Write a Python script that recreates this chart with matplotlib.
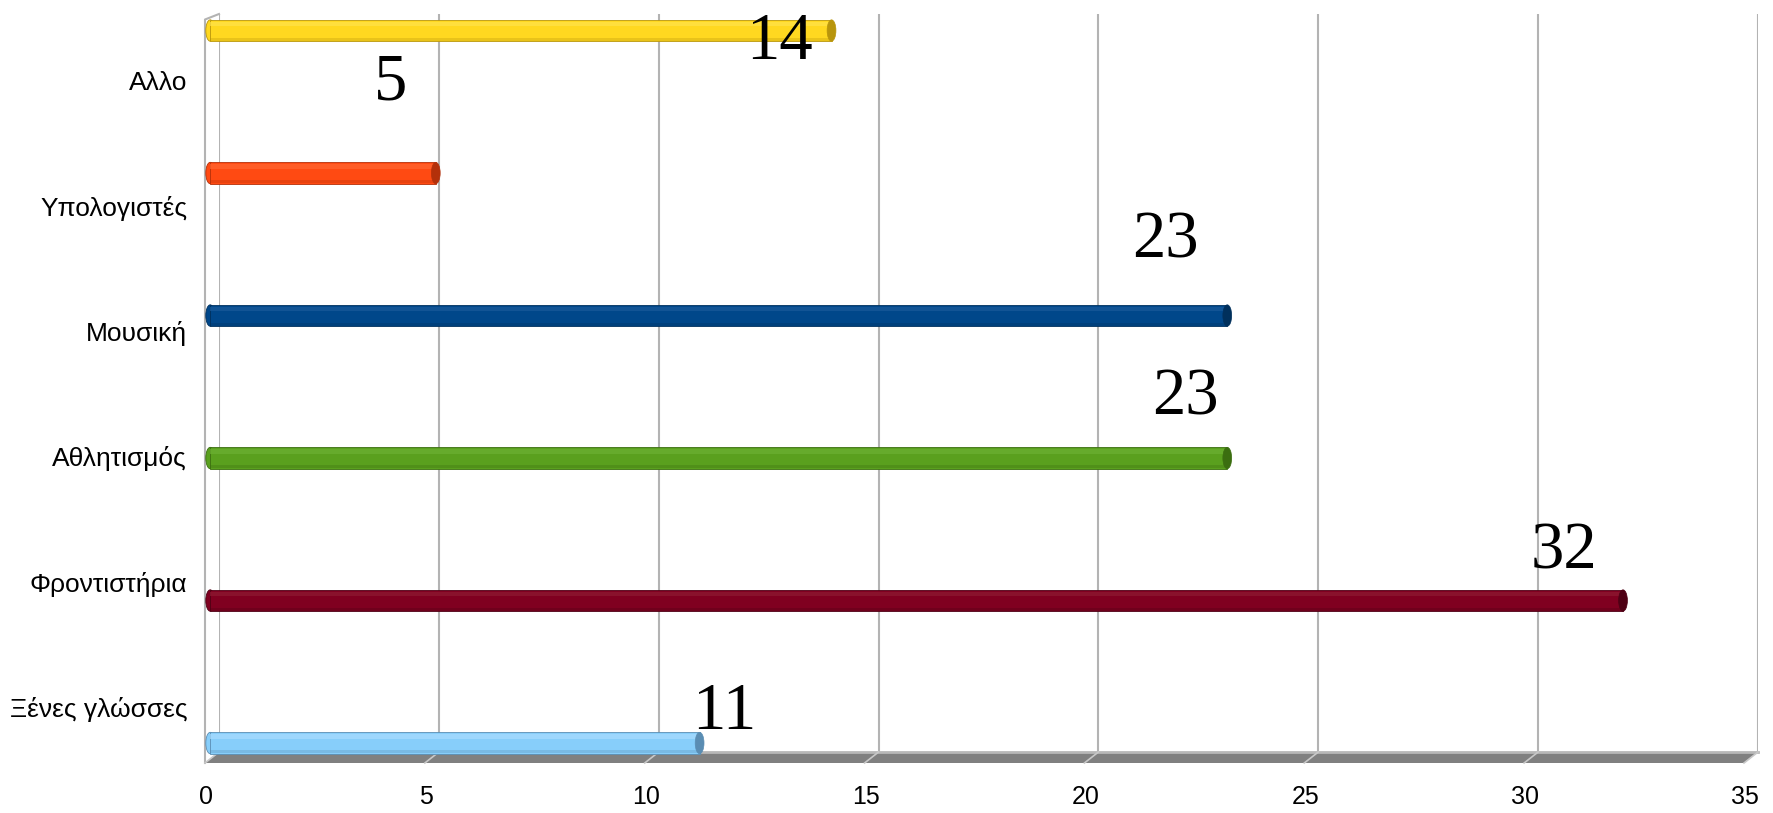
import matplotlib
matplotlib.use("Agg")
import matplotlib.pyplot as plt
from matplotlib.patches import Polygon, Ellipse
from matplotlib.lines import Line2D
import matplotlib.transforms as mtransforms

# ---- data ----
categories = ["Ξένες γλώσσες", "Φροντιστήρια", "Αθλητισμός", "Μουσική", "Υπολογιστές", "Αλλο"]
values = [11, 32, 23, 23, 5, 14]
x_ticks = [0, 5, 10, 15, 20, 25, 30, 35]

# ---- styles ----
bar_colors = ["#87CEFA", "#800020", "#5AA01E", "#00478A", "#FF4A12", "#FFD820"]
cap_colors = ["#5A8DB3", "#4E0014", "#3B6E10", "#00305C", "#B3300A", "#B8950C"]
light_colors = ["#A8DCFF", "#8E1A32", "#6CB032", "#1A5A9A", "#FF6630", "#FFE24A"]
# value-label offsets (pixels) relative to bar end / bar centre
label_offsets = [(22, 31), (-62, 49), (-45, 60), (-65, 75), (-48, 90), (-55, -12)]

W, H = 1773, 813
fig = plt.figure(figsize=(W / 100, H / 100), dpi=100)
left_px, right_px, top_px, bottom_px = 219, 1758, 14, 752
ax = fig.add_axes([left_px / W, 1 - bottom_px / H, (right_px - left_px) / W, (bottom_px - top_px) / H])

n = len(categories)
bar_pos = list(range(n))
label_pos = [0.253 + 0.879 * i for i in range(n)]
bar_h = 0.15
shift = -0.2
end_gap = 0.07

ax.set_xlim(0, 35)
ax.set_ylim(-0.063, 5.116)

# gridlines
for xt in x_ticks:
    ax.axvline(xt, color="#b3b3b3", lw=1.5, zorder=1)

# bars (cylinder look)
for i, (v, c, cc, lc) in enumerate(zip(values, bar_colors, cap_colors, light_colors)):
    y = bar_pos[i]
    w = v - shift - end_gap
    for bc in [
        ax.barh(y, w, left=shift, height=bar_h, color=c, edgecolor=cc, linewidth=0.6, zorder=3),
        ax.barh(y + bar_h * 0.3, w, left=shift, height=bar_h * 0.22, color=lc, linewidth=0, zorder=3.1, alpha=0.7),
        ax.barh(y - bar_h * 0.4, w, left=shift, height=bar_h * 0.14, color=cc, linewidth=0, zorder=3.1, alpha=0.3),
    ]:
        for p in bc:
            p.set_clip_on(False)
    ax.add_patch(Ellipse((shift, y), 0.2, bar_h, facecolor=c, edgecolor=cc, lw=0.6, zorder=2.9, clip_on=False))
    ax.add_patch(Ellipse((shift + w, y), 0.2, bar_h, facecolor=cc, edgecolor=cc, lw=0.5, zorder=3.2, clip_on=False))
    dx, dy = label_offsets[i]
    ax.annotate(str(v), xy=(v, y), xytext=(dx, dy), textcoords="offset pixels",
                ha="center", va="center", fontsize=48, family="Liberation Serif",
                color="black", zorder=5, annotation_clip=False)

# axes styling
for s in ax.spines.values():
    s.set_visible(False)
ax.set_yticks(label_pos)
ax.set_yticklabels(categories, fontsize=19, family="Liberation Sans")
ax.tick_params(axis="y", length=0, pad=23)
ax.set_xticks(x_ticks)
ax.set_xticklabels([str(t) for t in x_ticks], fontsize=18, family="Liberation Sans")
ax.tick_params(axis="x", length=0, pad=24)
off = mtransforms.ScaledTranslation(-13 / 100, 0, fig.dpi_scale_trans)
for lab in ax.get_xticklabels():
    lab.set_transform(lab.get_transform() + off)

# 3D floor and walls (axes coords)
aw, ah = right_px - left_px, bottom_px - top_px
ddx, ddy = -14 / aw, -11 / ah
floor = Polygon([(0, 0), (1, 0), (1 + ddx, ddy), (ddx, ddy)], closed=True,
                transform=ax.transAxes, facecolor="#808080", edgecolor="none", clip_on=False, zorder=2)
ax.add_patch(floor)
ax.add_line(Line2D([0, 1], [0, 0], transform=ax.transAxes, color="#b8b8b8", lw=2, clip_on=False, zorder=2.1))
for xt in x_ticks:
    xa = xt / 35
    ax.add_line(Line2D([xa, xa + ddx], [0, ddy], transform=ax.transAxes, color="#c8c8c8", lw=1.2,
                       clip_on=False, zorder=2.2))
# left wall
ax.add_line(Line2D([ddx, ddx, 0], [ddy, 1 + ddy * 0.5, 1], transform=ax.transAxes, color="#b3b3b3", lw=1.5,
                   clip_on=False, zorder=2))

fig.savefig("out.png", dpi=100, facecolor="white")
